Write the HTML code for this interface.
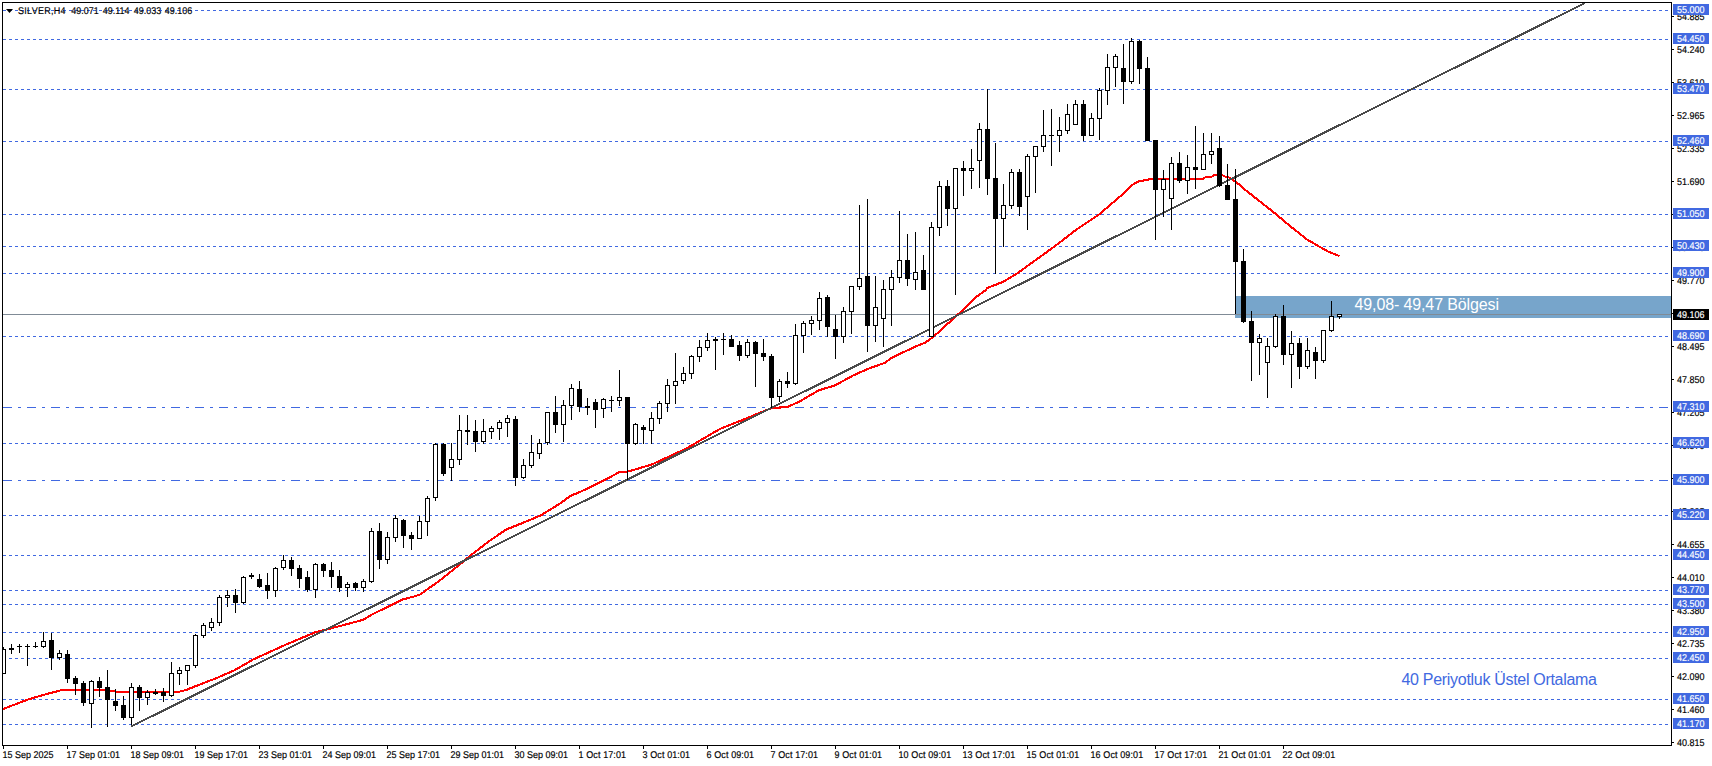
<!DOCTYPE html>
<html lang="tr"><head><meta charset="utf-8"><title>SILVER,H4</title>
<style>
html,body{margin:0;padding:0;background:#fff;overflow:hidden}
body{width:1712px;height:766px;font-family:"Liberation Sans",sans-serif}
svg{display:block}
text{font-family:"Liberation Sans",sans-serif}
.s{font-size:9px;text-rendering:geometricPrecision;fill:#000;stroke:#000;stroke-width:0.15px}
.w{font-size:9px;text-rendering:geometricPrecision;fill:#fff;stroke:#fff;stroke-width:0.15px}
.big{font-size:16px}
</style></head><body>
<svg width="1712" height="766" viewBox="0 0 1712 766" shape-rendering="crispEdges">
<rect x="0" y="0" width="1712" height="766" fill="#fff"/>
<defs><clipPath id="pc"><rect x="3" y="3" width="1668" height="742"/></clipPath></defs>
<g clip-path="url(#pc)">
<g stroke="#4169E1" stroke-width="1" fill="none">
<line x1="3" y1="10.5" x2="1669" y2="10.5" stroke-dasharray="3 3"/>
<line x1="3" y1="39.5" x2="1669" y2="39.5" stroke-dasharray="3 3"/>
<line x1="3" y1="89.5" x2="1669" y2="89.5" stroke-dasharray="3 3"/>
<line x1="3" y1="141.5" x2="1669" y2="141.5" stroke-dasharray="3 3"/>
<line x1="3" y1="214.5" x2="1669" y2="214.5" stroke-dasharray="3 3"/>
<line x1="3" y1="246.5" x2="1669" y2="246.5" stroke-dasharray="3 3"/>
<line x1="3" y1="273.5" x2="1669" y2="273.5" stroke-dasharray="3 3"/>
<line x1="3" y1="336.5" x2="1669" y2="336.5" stroke-dasharray="3 3"/>
<line x1="3" y1="407.5" x2="1669" y2="407.5" stroke-dasharray="9 6 3 6"/>
<line x1="3" y1="443.5" x2="1669" y2="443.5" stroke-dasharray="3 3"/>
<line x1="3" y1="480.5" x2="1669" y2="480.5" stroke-dasharray="9 6 3 6"/>
<line x1="3" y1="515.5" x2="1669" y2="515.5" stroke-dasharray="3 3"/>
<line x1="3" y1="555.5" x2="1669" y2="555.5" stroke-dasharray="3 3"/>
<line x1="3" y1="590.5" x2="1669" y2="590.5" stroke-dasharray="3 3"/>
<line x1="3" y1="604.5" x2="1669" y2="604.5" stroke-dasharray="3 3"/>
<line x1="3" y1="632.5" x2="1669" y2="632.5" stroke-dasharray="3 3"/>
<line x1="3" y1="658.5" x2="1669" y2="658.5" stroke-dasharray="3 3"/>
<line x1="3" y1="699.5" x2="1669" y2="699.5" stroke-dasharray="3 3"/>
<line x1="3" y1="724.5" x2="1669" y2="724.5" stroke-dasharray="3 3"/>
</g>
<rect x="1235" y="296" width="436" height="22" fill="#77A5CB"/>
<rect x="3" y="314" width="1668" height="1" fill="#808B96"/>
<polyline fill="none" stroke="#FF0000" stroke-width="2.1" stroke-linejoin="round" points="3.0,709.0 28.0,699.5 45.0,694.5 62.0,690.0 100.0,690.0 110.0,691.0 120.0,692.0 178.0,692.0 186.0,690.0 210.0,680.5 214.0,679.2 235.0,670.0 253.3,659.4 285.0,645.0 315.0,632.4 340.0,626.0 363.0,619.9 372.3,614.3 403.0,599.4 414.0,596.5 420.4,594.4 425.8,590.4 439.2,581.0 462.7,562.2 468.9,556.7 490.0,540.5 506.5,529.4 525.0,522.0 541.0,515.3 560.0,503.5 570.8,495.7 580.0,492.0 603.7,480.6 620.2,471.7 627.5,471.7 652.0,464.4 684.6,449.4 695.0,443.5 720.0,428.9 745.0,419.0 770.8,408.3 788.0,406.8 800.0,401.2 818.8,390.3 834.5,385.6 853.3,375.4 867.4,369.1 884.6,362.9 892.4,357.4 915.9,346.4 925.3,342.5 933.2,337.0 950.4,321.3 959.0,313.5 977.0,296.3 984.9,290.8 987.5,287.9 1003.7,281.6 1017.3,273.3 1055.0,246.1 1076.0,229.9 1099.4,214.2 1120.0,196.5 1133.0,184.5 1138.6,181.5 1149.6,179.3 1170.0,179.0 1203.0,179.0 1205.0,177.5 1212.0,176.5 1214.0,175.0 1222.0,175.0 1225.0,176.5 1229.0,177.5 1233.0,180.0 1239.3,184.6 1245.4,190.0 1260.0,201.5 1276.0,214.2 1290.0,226.0 1306.9,239.4 1317.5,245.6 1328.0,251.5 1339.4,256.1"/>
<line x1="131" y1="726.6" x2="1584.5" y2="3.2" stroke="#4A4A4A" stroke-width="2"/>
<g fill="#000"><rect x="3" y="647" width="1" height="27"/><rect x="11" y="644" width="1" height="10"/><rect x="19" y="644" width="1" height="9"/><rect x="27" y="644" width="1" height="22"/><rect x="35" y="642" width="1" height="6"/><rect x="43" y="632" width="1" height="16"/><rect x="51" y="633" width="1" height="37"/><rect x="59" y="650" width="1" height="10"/><rect x="67" y="650" width="1" height="33"/><rect x="75" y="676" width="1" height="19"/><rect x="83" y="681" width="1" height="25"/><rect x="91" y="680" width="1" height="48"/><rect x="99" y="677" width="1" height="20"/><rect x="107" y="670" width="1" height="57"/><rect x="115" y="689" width="1" height="22"/><rect x="123" y="696" width="1" height="24"/><rect x="131" y="683" width="1" height="42"/><rect x="139" y="685" width="1" height="26"/><rect x="147" y="690" width="1" height="15"/><rect x="155" y="689" width="1" height="6"/><rect x="163" y="688" width="1" height="14"/><rect x="171" y="662" width="1" height="35"/><rect x="179" y="667" width="1" height="18"/><rect x="187" y="665" width="1" height="20"/><rect x="195" y="634" width="1" height="34"/><rect x="203" y="623" width="1" height="15"/><rect x="211" y="618" width="1" height="13"/><rect x="219" y="595" width="1" height="31"/><rect x="227" y="590" width="1" height="17"/><rect x="235" y="589" width="1" height="24"/><rect x="243" y="576" width="1" height="28"/><rect x="251" y="573" width="1" height="6"/><rect x="259" y="574" width="1" height="14"/><rect x="267" y="573" width="1" height="26"/><rect x="275" y="567" width="1" height="30"/><rect x="283" y="555" width="1" height="15"/><rect x="291" y="557" width="1" height="19"/><rect x="299" y="565" width="1" height="23"/><rect x="307" y="571" width="1" height="21"/><rect x="315" y="563" width="1" height="35"/><rect x="323" y="563" width="1" height="14"/><rect x="331" y="562" width="1" height="26"/><rect x="339" y="570" width="1" height="22"/><rect x="347" y="582" width="1" height="15"/><rect x="355" y="582" width="1" height="9"/><rect x="363" y="579" width="1" height="13"/><rect x="371" y="528" width="1" height="55"/><rect x="379" y="523" width="1" height="46"/><rect x="387" y="532" width="1" height="32"/><rect x="395" y="515" width="1" height="27"/><rect x="403" y="519" width="1" height="29"/><rect x="411" y="532" width="1" height="18"/><rect x="419" y="516" width="1" height="23"/><rect x="427" y="496" width="1" height="40"/><rect x="435" y="443" width="1" height="58"/><rect x="443" y="443" width="1" height="33"/><rect x="451" y="443" width="1" height="38"/><rect x="459" y="415" width="1" height="50"/><rect x="467" y="415" width="1" height="30"/><rect x="475" y="420" width="1" height="32"/><rect x="483" y="419" width="1" height="25"/><rect x="491" y="426" width="1" height="13"/><rect x="499" y="420" width="1" height="20"/><rect x="507" y="415" width="1" height="22"/><rect x="515" y="416" width="1" height="70"/><rect x="523" y="459" width="1" height="20"/><rect x="531" y="435" width="1" height="33"/><rect x="539" y="439" width="1" height="20"/><rect x="547" y="413" width="1" height="32"/><rect x="555" y="396" width="1" height="37"/><rect x="563" y="400" width="1" height="42"/><rect x="571" y="384" width="1" height="36"/><rect x="579" y="381" width="1" height="31"/><rect x="587" y="398" width="1" height="17"/><rect x="595" y="399" width="1" height="29"/><rect x="603" y="398" width="1" height="20"/><rect x="611" y="396" width="1" height="16"/><rect x="619" y="370" width="1" height="36"/><rect x="627" y="397" width="1" height="83"/><rect x="635" y="423" width="1" height="22"/><rect x="643" y="425" width="1" height="19"/><rect x="651" y="412" width="1" height="32"/><rect x="659" y="401" width="1" height="23"/><rect x="667" y="379" width="1" height="33"/><rect x="675" y="353" width="1" height="51"/><rect x="683" y="367" width="1" height="17"/><rect x="691" y="355" width="1" height="24"/><rect x="699" y="340" width="1" height="22"/><rect x="707" y="333" width="1" height="18"/><rect x="715" y="337" width="1" height="33"/><rect x="723" y="333" width="1" height="22"/><rect x="731" y="335" width="1" height="12"/><rect x="739" y="341" width="1" height="20"/><rect x="747" y="339" width="1" height="19"/><rect x="755" y="341" width="1" height="46"/><rect x="763" y="339" width="1" height="22"/><rect x="771" y="354" width="1" height="54"/><rect x="779" y="379" width="1" height="23"/><rect x="787" y="372" width="1" height="16"/><rect x="795" y="324" width="1" height="61"/><rect x="803" y="321" width="1" height="32"/><rect x="811" y="316" width="1" height="19"/><rect x="819" y="292" width="1" height="38"/><rect x="827" y="295" width="1" height="42"/><rect x="835" y="315" width="1" height="44"/><rect x="843" y="307" width="1" height="36"/><rect x="851" y="287" width="1" height="47"/><rect x="859" y="205" width="1" height="85"/><rect x="867" y="199" width="1" height="153"/><rect x="875" y="276" width="1" height="66"/><rect x="883" y="280" width="1" height="67"/><rect x="891" y="270" width="1" height="56"/><rect x="899" y="211" width="1" height="72"/><rect x="907" y="234" width="1" height="52"/><rect x="915" y="232" width="1" height="58"/><rect x="923" y="255" width="1" height="35"/><rect x="931" y="222" width="1" height="114"/><rect x="939" y="181" width="1" height="55"/><rect x="947" y="180" width="1" height="46"/><rect x="955" y="168" width="1" height="127"/><rect x="963" y="161" width="1" height="35"/><rect x="971" y="149" width="1" height="40"/><rect x="979" y="123" width="1" height="65"/><rect x="987" y="89" width="1" height="106"/><rect x="995" y="143" width="1" height="131"/><rect x="1003" y="184" width="1" height="63"/><rect x="1011" y="169" width="1" height="40"/><rect x="1019" y="169" width="1" height="47"/><rect x="1027" y="154" width="1" height="76"/><rect x="1035" y="146" width="1" height="47"/><rect x="1043" y="110" width="1" height="42"/><rect x="1051" y="109" width="1" height="57"/><rect x="1059" y="117" width="1" height="35"/><rect x="1067" y="104" width="1" height="30"/><rect x="1075" y="100" width="1" height="24"/><rect x="1083" y="100" width="1" height="41"/><rect x="1091" y="113" width="1" height="23"/><rect x="1099" y="88" width="1" height="52"/><rect x="1107" y="54" width="1" height="51"/><rect x="1115" y="54" width="1" height="33"/><rect x="1123" y="44" width="1" height="60"/><rect x="1131" y="38" width="1" height="46"/><rect x="1139" y="40" width="1" height="44"/><rect x="1147" y="57" width="1" height="84"/><rect x="1155" y="140" width="1" height="100"/><rect x="1163" y="170" width="1" height="47"/><rect x="1171" y="157" width="1" height="73"/><rect x="1179" y="152" width="1" height="31"/><rect x="1187" y="155" width="1" height="39"/><rect x="1195" y="126" width="1" height="63"/><rect x="1203" y="133" width="1" height="36"/><rect x="1211" y="133" width="1" height="31"/><rect x="1219" y="136" width="1" height="51"/><rect x="1227" y="164" width="1" height="36"/><rect x="1235" y="169" width="1" height="145"/><rect x="1243" y="249" width="1" height="74"/><rect x="1251" y="311" width="1" height="70"/><rect x="1259" y="334" width="1" height="41"/><rect x="1267" y="338" width="1" height="60"/><rect x="1275" y="314" width="1" height="34"/><rect x="1283" y="305" width="1" height="60"/><rect x="1291" y="331" width="1" height="57"/><rect x="1299" y="338" width="1" height="41"/><rect x="1307" y="338" width="1" height="31"/><rect x="1315" y="347" width="1" height="32"/><rect x="1323" y="330" width="1" height="33"/><rect x="1331" y="301" width="1" height="31"/><rect x="1339" y="314" width="1" height="5"/></g>
<g fill="#fff" stroke="#000" stroke-width="1"><rect x="1.5" y="649.5" width="4" height="24"/><rect x="41.5" y="641.5" width="4" height="5"/><rect x="57.5" y="653.5" width="4" height="4"/><rect x="89.5" y="681.5" width="4" height="22"/><rect x="129.5" y="687.5" width="4" height="30"/><rect x="145.5" y="692.5" width="4" height="5"/><rect x="169.5" y="673.5" width="4" height="22"/><rect x="177.5" y="670.5" width="4" height="3"/><rect x="185.5" y="665.5" width="4" height="5"/><rect x="193.5" y="635.5" width="4" height="30"/><rect x="201.5" y="625.5" width="4" height="10"/><rect x="209.5" y="622.5" width="4" height="5"/><rect x="217.5" y="597.5" width="4" height="25"/><rect x="225.5" y="595.5" width="4" height="2"/><rect x="241.5" y="577.5" width="4" height="25"/><rect x="273.5" y="568.5" width="4" height="22"/><rect x="281.5" y="560.5" width="4" height="7"/><rect x="313.5" y="564.5" width="4" height="25"/><rect x="345.5" y="584.5" width="4" height="3"/><rect x="361.5" y="581.5" width="4" height="6"/><rect x="369.5" y="531.5" width="4" height="50"/><rect x="385.5" y="537.5" width="4" height="22"/><rect x="393.5" y="518.5" width="4" height="19"/><rect x="417.5" y="521.5" width="4" height="17"/><rect x="425.5" y="498.5" width="4" height="23"/><rect x="433.5" y="444.5" width="4" height="53"/><rect x="449.5" y="459.5" width="4" height="8"/><rect x="457.5" y="430.5" width="4" height="29"/><rect x="481.5" y="431.5" width="4" height="10"/><rect x="489.5" y="428.5" width="4" height="3"/><rect x="497.5" y="422.5" width="4" height="6"/><rect x="505.5" y="418.5" width="4" height="4"/><rect x="521.5" y="465.5" width="4" height="12"/><rect x="529.5" y="452.5" width="4" height="13"/><rect x="537.5" y="443.5" width="4" height="10"/><rect x="545.5" y="412.5" width="4" height="30"/><rect x="561.5" y="405.5" width="4" height="19"/><rect x="569.5" y="388.5" width="4" height="17"/><rect x="601.5" y="399.5" width="4" height="9"/><rect x="617.5" y="397.5" width="4" height="3"/><rect x="633.5" y="424.5" width="4" height="19"/><rect x="649.5" y="418.5" width="4" height="12"/><rect x="657.5" y="403.5" width="4" height="15"/><rect x="665.5" y="385.5" width="4" height="18"/><rect x="673.5" y="381.5" width="4" height="4"/><rect x="681.5" y="373.5" width="4" height="7"/><rect x="689.5" y="356.5" width="4" height="17"/><rect x="697.5" y="347.5" width="4" height="9"/><rect x="705.5" y="340.5" width="4" height="7"/><rect x="745.5" y="342.5" width="4" height="13"/><rect x="777.5" y="381.5" width="4" height="15"/><rect x="793.5" y="335.5" width="4" height="48"/><rect x="801.5" y="323.5" width="4" height="12"/><rect x="809.5" y="320.5" width="4" height="3"/><rect x="817.5" y="298.5" width="4" height="22"/><rect x="841.5" y="311.5" width="4" height="25"/><rect x="849.5" y="286.5" width="4" height="25"/><rect x="857.5" y="278.5" width="4" height="8"/><rect x="873.5" y="307.5" width="4" height="18"/><rect x="881.5" y="289.5" width="4" height="29"/><rect x="889.5" y="277.5" width="4" height="12"/><rect x="897.5" y="260.5" width="4" height="17"/><rect x="913.5" y="272.5" width="4" height="7"/><rect x="929.5" y="227.5" width="4" height="109"/><rect x="937.5" y="186.5" width="4" height="41"/><rect x="953.5" y="168.5" width="4" height="40"/><rect x="969.5" y="168.5" width="4" height="2"/><rect x="977.5" y="129.5" width="4" height="31"/><rect x="1001.5" y="205.5" width="4" height="13"/><rect x="1009.5" y="172.5" width="4" height="33"/><rect x="1025.5" y="156.5" width="4" height="40"/><rect x="1033.5" y="146.5" width="4" height="10"/><rect x="1041.5" y="135.5" width="4" height="11"/><rect x="1057.5" y="130.5" width="4" height="5"/><rect x="1065.5" y="114.5" width="4" height="16"/><rect x="1073.5" y="104.5" width="4" height="20"/><rect x="1089.5" y="118.5" width="4" height="17"/><rect x="1097.5" y="90.5" width="4" height="28"/><rect x="1105.5" y="67.5" width="4" height="23"/><rect x="1113.5" y="56.5" width="4" height="11"/><rect x="1129.5" y="41.5" width="4" height="40"/><rect x="1161.5" y="179.5" width="4" height="10"/><rect x="1169.5" y="163.5" width="4" height="35"/><rect x="1185.5" y="167.5" width="4" height="13"/><rect x="1201.5" y="154.5" width="4" height="15"/><rect x="1209.5" y="151.5" width="4" height="3"/><rect x="1257.5" y="338.5" width="4" height="4"/><rect x="1265.5" y="346.5" width="4" height="16"/><rect x="1273.5" y="316.5" width="4" height="30"/><rect x="1289.5" y="343.5" width="4" height="11"/><rect x="1305.5" y="350.5" width="4" height="16"/><rect x="1321.5" y="330.5" width="4" height="30"/><rect x="1329.5" y="316.5" width="4" height="14"/><rect x="1337.5" y="314.5" width="4" height="2"/></g>
<g fill="#000"><rect x="9" y="648" width="5" height="2"/><rect x="17" y="646" width="5" height="1"/><rect x="25" y="646" width="5" height="1"/><rect x="33" y="646" width="5" height="1"/><rect x="49" y="640" width="5" height="18"/><rect x="65" y="654" width="5" height="25"/><rect x="73" y="678" width="5" height="6"/><rect x="81" y="683" width="5" height="20"/><rect x="97" y="681" width="5" height="7"/><rect x="105" y="687" width="5" height="13"/><rect x="113" y="701" width="5" height="5"/><rect x="121" y="705" width="5" height="13"/><rect x="137" y="687" width="5" height="11"/><rect x="153" y="692" width="5" height="2"/><rect x="161" y="692" width="5" height="4"/><rect x="233" y="595" width="5" height="8"/><rect x="249" y="575" width="5" height="2"/><rect x="257" y="579" width="5" height="8"/><rect x="265" y="585" width="5" height="6"/><rect x="289" y="560" width="5" height="9"/><rect x="297" y="568" width="5" height="11"/><rect x="305" y="577" width="5" height="13"/><rect x="321" y="564" width="5" height="7"/><rect x="329" y="570" width="5" height="7"/><rect x="337" y="576" width="5" height="12"/><rect x="353" y="583" width="5" height="5"/><rect x="377" y="531" width="5" height="29"/><rect x="401" y="520" width="5" height="16"/><rect x="409" y="535" width="5" height="4"/><rect x="441" y="444" width="5" height="30"/><rect x="465" y="430" width="5" height="2"/><rect x="473" y="431" width="5" height="11"/><rect x="513" y="419" width="5" height="59"/><rect x="553" y="412" width="5" height="13"/><rect x="577" y="389" width="5" height="18"/><rect x="585" y="406" width="5" height="2"/><rect x="593" y="402" width="5" height="8"/><rect x="609" y="400" width="5" height="1"/><rect x="625" y="397" width="5" height="47"/><rect x="641" y="427" width="5" height="3"/><rect x="713" y="339" width="5" height="2"/><rect x="721" y="339" width="5" height="1"/><rect x="729" y="339" width="5" height="8"/><rect x="737" y="345" width="5" height="11"/><rect x="753" y="342" width="5" height="12"/><rect x="761" y="353" width="5" height="4"/><rect x="769" y="356" width="5" height="42"/><rect x="785" y="381" width="5" height="3"/><rect x="825" y="297" width="5" height="30"/><rect x="833" y="329" width="5" height="8"/><rect x="865" y="276" width="5" height="50"/><rect x="905" y="260" width="5" height="19"/><rect x="921" y="270" width="5" height="20"/><rect x="945" y="186" width="5" height="23"/><rect x="961" y="168" width="5" height="3"/><rect x="985" y="129" width="5" height="50"/><rect x="993" y="178" width="5" height="41"/><rect x="1017" y="172" width="5" height="35"/><rect x="1049" y="135" width="5" height="1"/><rect x="1081" y="104" width="5" height="32"/><rect x="1121" y="68" width="5" height="14"/><rect x="1137" y="41" width="5" height="28"/><rect x="1145" y="68" width="5" height="73"/><rect x="1153" y="140" width="5" height="50"/><rect x="1177" y="163" width="5" height="18"/><rect x="1193" y="167" width="5" height="3"/><rect x="1217" y="148" width="5" height="38"/><rect x="1225" y="185" width="5" height="15"/><rect x="1233" y="199" width="5" height="63"/><rect x="1241" y="261" width="5" height="61"/><rect x="1249" y="321" width="5" height="22"/><rect x="1281" y="316" width="5" height="39"/><rect x="1297" y="343" width="5" height="24"/><rect x="1313" y="352" width="5" height="9"/></g>
</g>
<g fill="#000">
<rect x="2" y="2" width="1670" height="1"/>
<rect x="2" y="2" width="1" height="744"/>
<rect x="1671" y="2" width="1" height="744"/>
<rect x="2" y="745" width="1670" height="1"/>
<rect x="3" y="746" width="1" height="3"/>
<rect x="67" y="746" width="1" height="3"/>
<rect x="131" y="746" width="1" height="3"/>
<rect x="195" y="746" width="1" height="3"/>
<rect x="259" y="746" width="1" height="3"/>
<rect x="323" y="746" width="1" height="3"/>
<rect x="387" y="746" width="1" height="3"/>
<rect x="451" y="746" width="1" height="3"/>
<rect x="515" y="746" width="1" height="3"/>
<rect x="579" y="746" width="1" height="3"/>
<rect x="643" y="746" width="1" height="3"/>
<rect x="707" y="746" width="1" height="3"/>
<rect x="771" y="746" width="1" height="3"/>
<rect x="835" y="746" width="1" height="3"/>
<rect x="899" y="746" width="1" height="3"/>
<rect x="963" y="746" width="1" height="3"/>
<rect x="1027" y="746" width="1" height="3"/>
<rect x="1091" y="746" width="1" height="3"/>
<rect x="1155" y="746" width="1" height="3"/>
<rect x="1219" y="746" width="1" height="3"/>
<rect x="1283" y="746" width="1" height="3"/>
<rect x="1672" y="16" width="2" height="1"/>
<rect x="1672" y="49" width="2" height="1"/>
<rect x="1672" y="82" width="2" height="1"/>
<rect x="1672" y="115" width="2" height="1"/>
<rect x="1672" y="148" width="2" height="1"/>
<rect x="1672" y="181" width="2" height="1"/>
<rect x="1672" y="214" width="2" height="1"/>
<rect x="1672" y="247" width="2" height="1"/>
<rect x="1672" y="280" width="2" height="1"/>
<rect x="1672" y="313" width="2" height="1"/>
<rect x="1672" y="346" width="2" height="1"/>
<rect x="1672" y="379" width="2" height="1"/>
<rect x="1672" y="412" width="2" height="1"/>
<rect x="1672" y="445" width="2" height="1"/>
<rect x="1672" y="478" width="2" height="1"/>
<rect x="1672" y="511" width="2" height="1"/>
<rect x="1672" y="544" width="2" height="1"/>
<rect x="1672" y="577" width="2" height="1"/>
<rect x="1672" y="610" width="2" height="1"/>
<rect x="1672" y="643" width="2" height="1"/>
<rect x="1672" y="676" width="2" height="1"/>
<rect x="1672" y="709" width="2" height="1"/>
<rect x="1672" y="742" width="2" height="1"/>
</g>
<path d="M6 9h7l-3.5 4z" fill="#000" shape-rendering="auto"/>
<text class="s" transform="translate(18 14) scale(1 1.09)" textLength="47.5" lengthAdjust="spacing">SILVER,H4</text>
<text class="s" transform="translate(71.3 14) scale(1 1.09)">49.071</text>
<text class="s" transform="translate(102.7 14) scale(1 1.09)">49.114</text>
<text class="s" transform="translate(133.7 14) scale(1 1.09)">49.033</text>
<text class="s" transform="translate(164.8 14) scale(1 1.09)">49.106</text>
<text class="s" transform="translate(2.5 757.8) scale(1 1.09)">15 Sep 2025</text>
<text class="s" transform="translate(66.5 757.8) scale(1 1.09)">17 Sep 01:01</text>
<text class="s" transform="translate(130.5 757.8) scale(1 1.09)">18 Sep 09:01</text>
<text class="s" transform="translate(194.5 757.8) scale(1 1.09)">19 Sep 17:01</text>
<text class="s" transform="translate(258.5 757.8) scale(1 1.09)">23 Sep 01:01</text>
<text class="s" transform="translate(322.5 757.8) scale(1 1.09)">24 Sep 09:01</text>
<text class="s" transform="translate(386.5 757.8) scale(1 1.09)">25 Sep 17:01</text>
<text class="s" transform="translate(450.5 757.8) scale(1 1.09)">29 Sep 01:01</text>
<text class="s" transform="translate(514.5 757.8) scale(1 1.09)">30 Sep 09:01</text>
<text class="s" transform="translate(578.5 757.8) scale(1 1.09)" textLength="47.6" lengthAdjust="spacing">1 Oct 17:01</text>
<text class="s" transform="translate(642.5 757.8) scale(1 1.09)" textLength="47.6" lengthAdjust="spacing">3 Oct 01:01</text>
<text class="s" transform="translate(706.5 757.8) scale(1 1.09)" textLength="47.6" lengthAdjust="spacing">6 Oct 09:01</text>
<text class="s" transform="translate(770.5 757.8) scale(1 1.09)" textLength="47.6" lengthAdjust="spacing">7 Oct 17:01</text>
<text class="s" transform="translate(834.5 757.8) scale(1 1.09)" textLength="47.6" lengthAdjust="spacing">9 Oct 01:01</text>
<text class="s" transform="translate(898.5 757.8) scale(1 1.09)" textLength="52.7" lengthAdjust="spacing">10 Oct 09:01</text>
<text class="s" transform="translate(962.5 757.8) scale(1 1.09)" textLength="52.7" lengthAdjust="spacing">13 Oct 17:01</text>
<text class="s" transform="translate(1026.5 757.8) scale(1 1.09)" textLength="52.7" lengthAdjust="spacing">15 Oct 01:01</text>
<text class="s" transform="translate(1090.5 757.8) scale(1 1.09)" textLength="52.7" lengthAdjust="spacing">16 Oct 09:01</text>
<text class="s" transform="translate(1154.5 757.8) scale(1 1.09)" textLength="52.7" lengthAdjust="spacing">17 Oct 17:01</text>
<text class="s" transform="translate(1218.5 757.8) scale(1 1.09)" textLength="52.7" lengthAdjust="spacing">21 Oct 01:01</text>
<text class="s" transform="translate(1282.5 757.8) scale(1 1.09)" textLength="52.7" lengthAdjust="spacing">22 Oct 09:01</text>
<text class="s" transform="translate(1677 20) scale(1 1.09)">54.885</text>
<text class="s" transform="translate(1677 53) scale(1 1.09)">54.240</text>
<text class="s" transform="translate(1677 86) scale(1 1.09)">53.610</text>
<text class="s" transform="translate(1677 119) scale(1 1.09)">52.965</text>
<text class="s" transform="translate(1677 152) scale(1 1.09)">52.335</text>
<text class="s" transform="translate(1677 185) scale(1 1.09)">51.690</text>
<text class="s" transform="translate(1677 218) scale(1 1.09)">51.050</text>
<text class="s" transform="translate(1677 251) scale(1 1.09)">50.410</text>
<text class="s" transform="translate(1677 284) scale(1 1.09)">49.770</text>
<text class="s" transform="translate(1677 317) scale(1 1.09)">49.130</text>
<text class="s" transform="translate(1677 350) scale(1 1.09)">48.495</text>
<text class="s" transform="translate(1677 383) scale(1 1.09)">47.850</text>
<text class="s" transform="translate(1677 416) scale(1 1.09)">47.205</text>
<text class="s" transform="translate(1677 449) scale(1 1.09)">46.570</text>
<text class="s" transform="translate(1677 482) scale(1 1.09)">45.935</text>
<text class="s" transform="translate(1677 515) scale(1 1.09)">45.295</text>
<text class="s" transform="translate(1677 548) scale(1 1.09)">44.655</text>
<text class="s" transform="translate(1677 581) scale(1 1.09)">44.010</text>
<text class="s" transform="translate(1677 614) scale(1 1.09)">43.380</text>
<text class="s" transform="translate(1677 647) scale(1 1.09)">42.735</text>
<text class="s" transform="translate(1677 680) scale(1 1.09)">42.090</text>
<text class="s" transform="translate(1677 713) scale(1 1.09)">41.460</text>
<text class="s" transform="translate(1677 746) scale(1 1.09)">40.815</text>
<rect x="1673" y="4" width="36" height="11" fill="#4169E1"/>
<text class="w" transform="translate(1677 13) scale(1 1.09)">55.000</text>
<rect x="1673" y="33" width="36" height="11" fill="#4169E1"/>
<text class="w" transform="translate(1677 42) scale(1 1.09)">54.450</text>
<rect x="1673" y="83" width="36" height="11" fill="#4169E1"/>
<text class="w" transform="translate(1677 92) scale(1 1.09)">53.470</text>
<rect x="1673" y="135" width="36" height="11" fill="#4169E1"/>
<text class="w" transform="translate(1677 144) scale(1 1.09)">52.460</text>
<rect x="1673" y="208" width="36" height="11" fill="#4169E1"/>
<text class="w" transform="translate(1677 217) scale(1 1.09)">51.050</text>
<rect x="1673" y="240" width="36" height="11" fill="#4169E1"/>
<text class="w" transform="translate(1677 249) scale(1 1.09)">50.430</text>
<rect x="1673" y="267" width="36" height="11" fill="#4169E1"/>
<text class="w" transform="translate(1677 276) scale(1 1.09)">49.900</text>
<rect x="1673" y="330" width="36" height="11" fill="#4169E1"/>
<text class="w" transform="translate(1677 339) scale(1 1.09)">48.690</text>
<rect x="1673" y="401" width="36" height="11" fill="#4169E1"/>
<text class="w" transform="translate(1677 410) scale(1 1.09)">47.310</text>
<rect x="1673" y="437" width="36" height="11" fill="#4169E1"/>
<text class="w" transform="translate(1677 446) scale(1 1.09)">46.620</text>
<rect x="1673" y="474" width="36" height="11" fill="#4169E1"/>
<text class="w" transform="translate(1677 483) scale(1 1.09)">45.900</text>
<rect x="1673" y="509" width="36" height="11" fill="#4169E1"/>
<text class="w" transform="translate(1677 518) scale(1 1.09)">45.220</text>
<rect x="1673" y="549" width="36" height="11" fill="#4169E1"/>
<text class="w" transform="translate(1677 558) scale(1 1.09)">44.450</text>
<rect x="1673" y="584" width="36" height="11" fill="#4169E1"/>
<text class="w" transform="translate(1677 593) scale(1 1.09)">43.770</text>
<rect x="1673" y="598" width="36" height="11" fill="#4169E1"/>
<text class="w" transform="translate(1677 607) scale(1 1.09)">43.500</text>
<rect x="1673" y="626" width="36" height="11" fill="#4169E1"/>
<text class="w" transform="translate(1677 635) scale(1 1.09)">42.950</text>
<rect x="1673" y="652" width="36" height="11" fill="#4169E1"/>
<text class="w" transform="translate(1677 661) scale(1 1.09)">42.450</text>
<rect x="1673" y="693" width="36" height="11" fill="#4169E1"/>
<text class="w" transform="translate(1677 702) scale(1 1.09)">41.650</text>
<rect x="1673" y="718" width="36" height="11" fill="#4169E1"/>
<text class="w" transform="translate(1677 727) scale(1 1.09)">41.170</text>
<rect x="1673" y="309" width="36" height="11" fill="#000"/>
<text class="w" transform="translate(1677 318) scale(1 1.09)">49.106</text>
<text class="big" x="1354.5" y="310" fill="#fff" textLength="144.5" lengthAdjust="spacing">49,08- 49,47 Bölgesi</text>
<text class="big" x="1401.5" y="685" fill="#4169E1" textLength="195.5" lengthAdjust="spacing">40 Periyotluk Üstel Ortalama</text>
</svg></body></html>
